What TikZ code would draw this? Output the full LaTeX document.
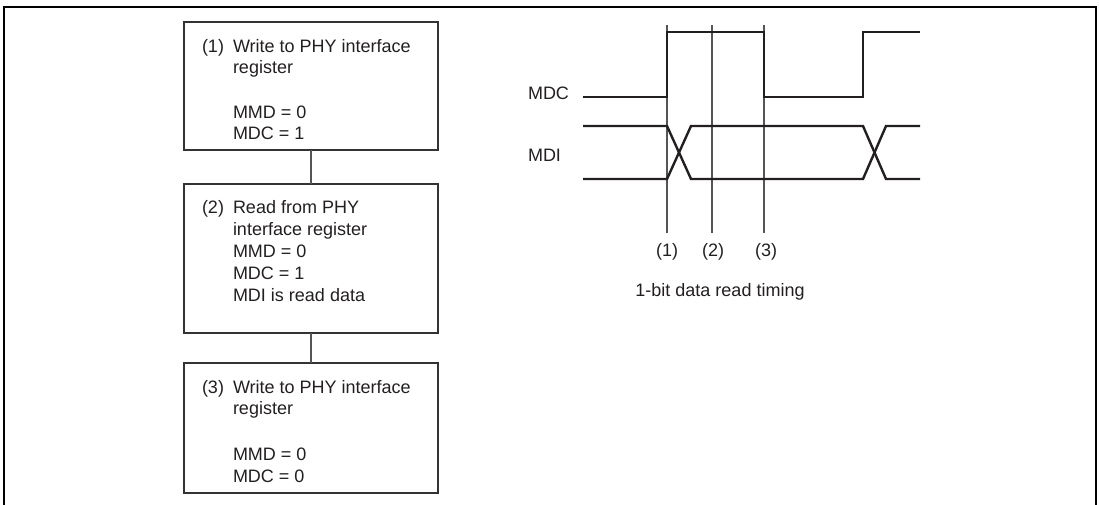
\documentclass[tikz,border=0pt]{standalone}
\usepackage{fontspec}
\setmainfont{Liberation Sans}
\definecolor{ink}{HTML}{231F20}
\definecolor{edge}{HTML}{333333}
\definecolor{markgray}{HTML}{555555}
\begin{document}
\begin{tikzpicture}[x=1pt,y=-1pt,
  every node/.style={font=\fontsize{18}{21.5}\selectfont, text=ink, inner sep=0pt, outer sep=0pt},
  boxnode/.style={draw=edge, line width=2pt, minimum width=254pt, anchor=north west},
  tl/.style={anchor=base west},
  tc/.style={anchor=base},
  linkline/.style={draw=markgray, line width=2pt},
  sig/.style={draw=ink, line width=2.4pt, line join=miter},
  vline/.style={draw=markgray, line width=1.3pt},
  frameline/.style={draw=black, line width=2.6pt}]
\useasboundingbox (0,0) rectangle (1099,505);
% frame
\coordinate (fbl) at (4,505);
\coordinate (ftl) at (4,7);
\coordinate (ftr) at (1096,7);
\coordinate (fbr) at (1096,505);
\draw[frameline] (fbl) -- (ftl) -- (ftr) -- (fbr);
% boxes
\node[boxnode, minimum height=128pt] (b1) at (184,22) {};
\node[boxnode, minimum height=149pt] (b2) at (184,184) {};
\node[boxnode, minimum height=130pt] (b3) at (184,363) {};
\draw[linkline] (b1.south) -- (b2.north);
\draw[linkline] (b2.south) -- (b3.north);
% box 1 text
\node[tl] (n1) at (202,53) {(1)};
\node[tl] (a1) at (233,53) {Write to PHY interface};
\node[tl] (a2) at (233,74) {register};
\node[tl] (a3) at (233,119) {MMD = 0};
\node[tl] (a4) at (233,140) {MDC = 1};
% box 2 text
\node[tl] (n2) at (202,213) {(2)};
\node[tl] (c1) at (233,213) {Read from PHY};
\node[tl] (c2) at (233,235) {interface register};
\node[tl] (c3) at (233,257) {MMD = 0};
\node[tl] (c4) at (233,279) {MDC = 1};
\node[tl] (c5) at (233,301) {MDI is read data};
% box 3 text
\node[tl] (n3) at (202,393) {(3)};
\node[tl] (d1) at (233,393) {Write to PHY interface};
\node[tl] (d2) at (233,414) {register};
\node[tl] (d3) at (233,460) {MMD = 0};
\node[tl] (d4) at (233,482) {MDC = 0};
% timing labels
\node[tl] (mdc) at (528,100) {MDC};
\node[tl] (mdi) at (528,162) {MDI};
% marker lines
\coordinate (m1t) at (667,25); \coordinate (m1b) at (667,233);
\coordinate (m2t) at (712,25); \coordinate (m2b) at (712,233);
\coordinate (m3t) at (764,25); \coordinate (m3b) at (764,233);
\draw[vline] (m1t) -- (m1b);
\draw[vline] (m2t) -- (m2b);
\draw[vline] (m3t) -- (m3b);
% MDC waveform
\draw[sig] (583,97) -- (667,97) -- (667,32) -- (764,32) -- (764,97) -- (863,97) -- (863,32) -- (920,32);
% MDI waveform
\draw[sig] (583,126) -- (667,126) -- (691,179) -- (863,179) -- (886,126) -- (920,126);
\draw[sig] (583,179) -- (667,179) -- (691,126) -- (863,126) -- (886,179) -- (920,179);
% point labels
\node[tc] (p1) at (667,256) {(1)};
\node[tc] (p2) at (713,256) {(2)};
\node[tc] (p3) at (766,256) {(3)};
\node[tc] (cap) at (720,296) {1-bit data read timing};
\end{tikzpicture}
\end{document}
